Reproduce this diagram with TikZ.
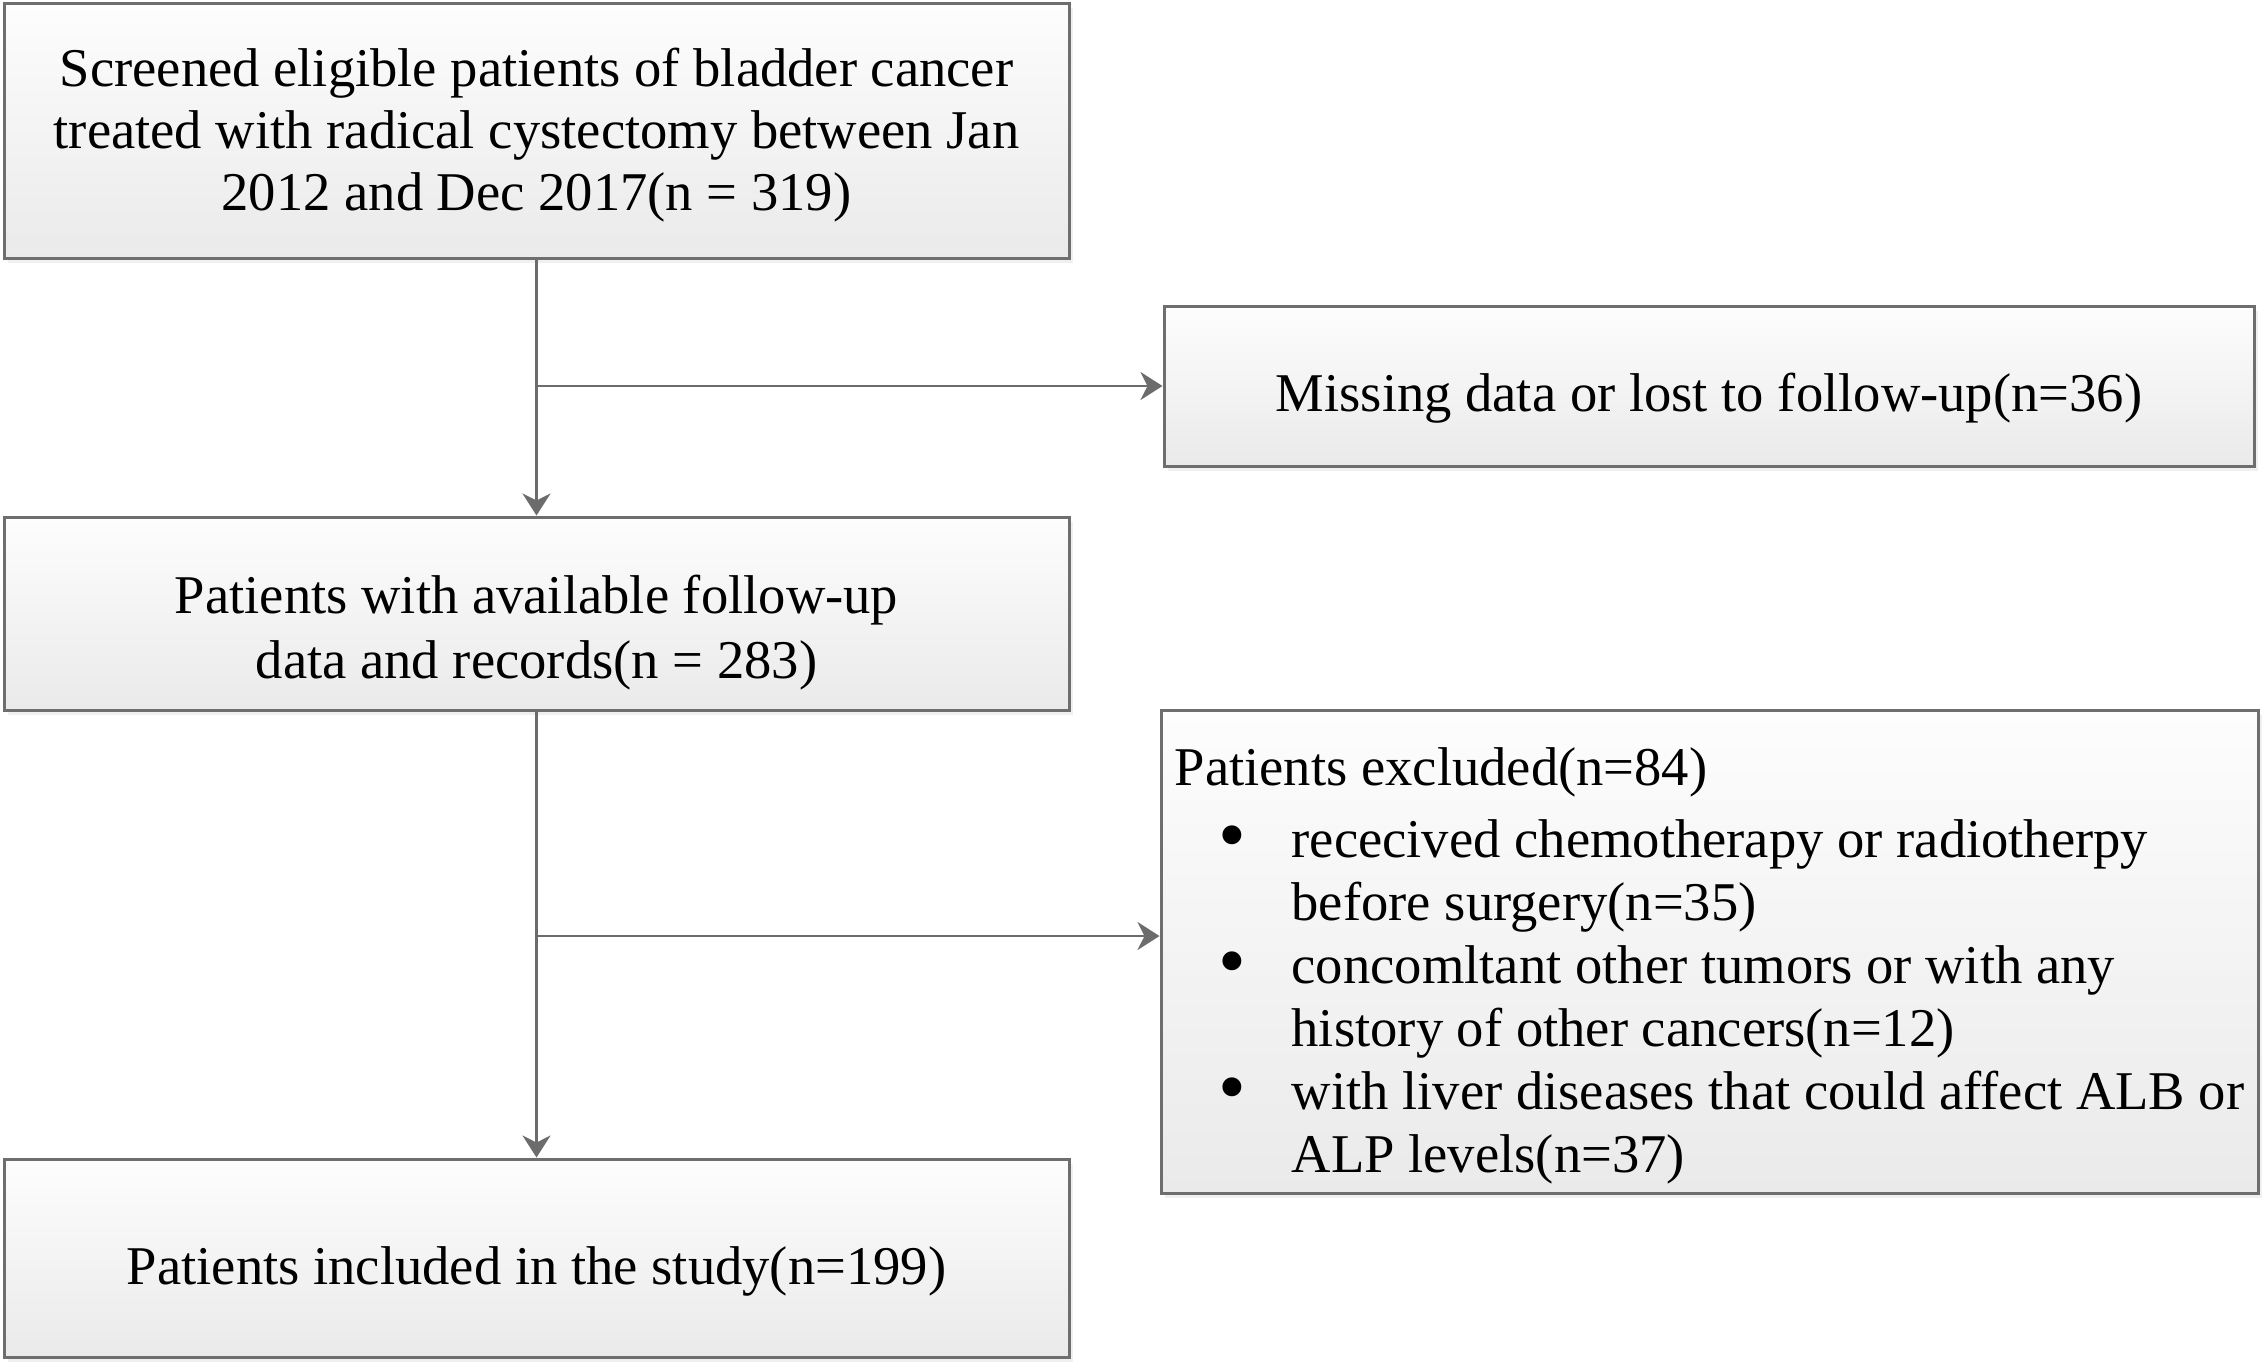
\documentclass[tikz,border=0pt]{standalone}
\usepackage{fontspec}
\setmainfont{Liberation Serif}
\usetikzlibrary{arrows.meta,shadows}
\definecolor{boxline}{RGB}{110,110,110}
\definecolor{arrgray}{RGB}{108,108,108}
\definecolor{boxtop}{RGB}{253,253,253}
\definecolor{boxbot}{RGB}{234,234,234}
\newcommand{\bul}{\makebox[58.5pt][l]{\hspace{22pt}\raisebox{-2pt}{\scalebox{1.45}{\textbullet}}}}
\begin{document}
\begin{tikzpicture}[x=0.5pt,y=-0.5pt,
  box/.style={draw=boxline, line width=1.5pt, top color=boxtop, bottom color=boxbot,
    inner sep=0pt, align=center, font=\fontsize{27.3}{31}\selectfont,
    drop shadow={shadow xshift=2pt, shadow yshift=-2.5pt, opacity=0.12}},
  arr/.style={draw=arrgray, line width=1.25pt, -{Stealth[length=11pt,width=14pt,inset=3.5pt]}}]
\useasboundingbox (0,0) rectangle (2264,1362);

\node[box, minimum width=532.5pt, minimum height=127.5pt] (b1) at (536.5,130.5)
  {\rule{0pt}{24.2pt}Screened eligible patients of bladder cancer\\treated with radical cystectomy between Jan\\2012 and Dec 2017(n = 319)};
\node[box, minimum width=545pt, minimum height=80pt] (miss) at (1709,386)
  {\rule{0pt}{31.6pt}Missing data or lost to follow-up(n=36)};
\node[box, minimum width=532.5pt, minimum height=96.5pt,
      font=\fontsize{27.3}{32.5}\selectfont] (b2) at (536.5,613.5)
  {\rule{0pt}{37.8pt}Patients with available follow-up\\data and records(n = 283)};
\node[box, minimum width=548.5pt, minimum height=241.5pt, align=left,
      font=\fontsize{27.3}{31.5}\selectfont] (excl) at (1709.5,951.5)
  {\rule{0pt}{33.2pt}Patients excluded(n=84)\\[4.5pt]
   \bul rececived chemotherapy or radiotherpy\\
   \hspace*{58.5pt}before surgery(n=35)\\
   \bul concomltant other tumors or with any\\
   \hspace*{58.5pt}history of other cancers(n=12)\\
   \bul with liver diseases that could affect ALB or\\
   \hspace*{58.5pt}ALP levels(n=37)};
\node[box, minimum width=532.5pt, minimum height=99pt] (b3) at (536.5,1258)
  {\rule{0pt}{32.7pt}Patients included in the study(n=199)};

\coordinate (j1) at (b1.south |- miss.west);
\coordinate (j2) at (536.5,936);
\draw[arr] (b1.south) -- (b2.north);
\draw[arr] (j1) -- (miss.west);
\draw[arr] (b2.south) -- (b3.north);
\draw[arr] (j2) -- (j2 -| excl.west);
\end{tikzpicture}
\end{document}
